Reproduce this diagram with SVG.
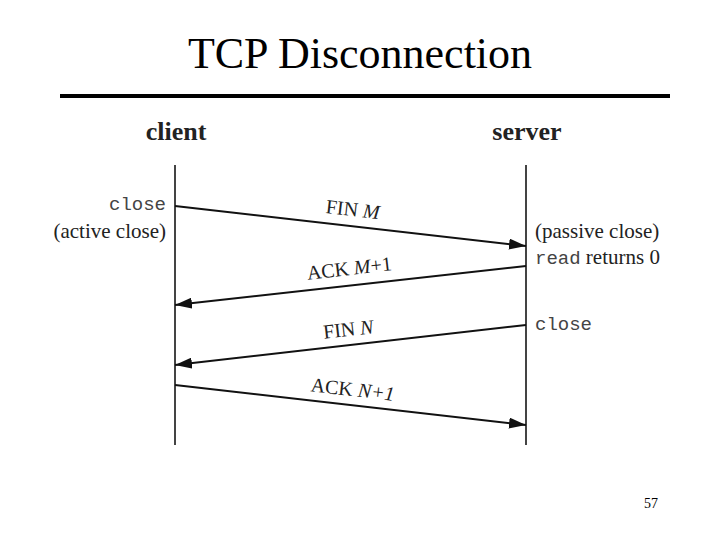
<svg xmlns="http://www.w3.org/2000/svg" width="720" height="540" viewBox="0 0 720 540">
<style>
.title{font-family:"Liberation Serif",serif;font-size:44px;fill:#000}
.head{font-family:"Liberation Serif",serif;font-size:26px;font-weight:bold;fill:#222}
.lbl{font-family:"Liberation Serif",serif;font-size:20px;fill:#222}
.side{font-family:"Liberation Serif",serif;font-size:21px;fill:#222}
.mono{font-family:"Liberation Mono",monospace;font-size:19px;fill:#444}
.it{font-style:italic}
.life{stroke:#444;stroke-width:2;fill:none}
.msg{stroke:#111;stroke-width:2;fill:none;marker-end:url(#ah)}
</style>
<defs>
<marker id="ah" markerUnits="userSpaceOnUse" markerWidth="18" markerHeight="11" refX="17" refY="5.5" orient="auto">
<path d="M0,0 L17,5.5 L0,11 z" fill="#111"/>
</marker>
</defs>
<rect width="720" height="540" fill="#fff"/>
<g id="title">
<text class="title" x="360" y="68" text-anchor="middle">TCP Disconnection</text>
<line x1="60" y1="96" x2="670" y2="96" stroke="#000" stroke-width="4"/>
</g>
<g id="client">
<text class="head" x="176" y="140" text-anchor="middle">client</text>
<line class="life" x1="175" y1="165" x2="175" y2="445"/>
<text class="mono" x="166" y="210" text-anchor="end">close</text>
<text class="side" x="166" y="238" text-anchor="end">(active close)</text>
</g>
<g id="server">
<text class="head" x="527" y="140" text-anchor="middle">server</text>
<line class="life" x1="526" y1="165" x2="526" y2="445"/>
<text class="side" x="535" y="238">(passive close)</text>
<text class="side" x="535" y="264"><tspan class="mono">read</tspan> returns 0</text>
<text class="mono" x="535" y="330">close</text>
</g>
<g id="connectors">
<line class="msg" x1="175" y1="206" x2="526" y2="246"/>
<line class="msg" x1="526" y1="266" x2="175" y2="305"/>
<line class="msg" x1="526" y1="325" x2="175" y2="365"/>
<line class="msg" x1="175" y1="385" x2="526" y2="425"/>
<text class="lbl" transform="translate(352,216) rotate(6.5)" text-anchor="middle">FIN <tspan class="it">M</tspan></text>
<text class="lbl" transform="translate(350,275) rotate(-6.5)" text-anchor="middle">ACK <tspan class="it">M</tspan>+1</text>
<text class="lbl" transform="translate(349,336) rotate(-6.5)" text-anchor="middle">FIN <tspan class="it">N</tspan></text>
<text class="lbl" transform="translate(352,396) rotate(6.5)" text-anchor="middle">ACK <tspan class="it">N+1</tspan></text>
</g>
<text x="651" y="508" text-anchor="middle" style="font-family:'Liberation Serif',serif;font-size:14px;fill:#000">57</text>
</svg>
